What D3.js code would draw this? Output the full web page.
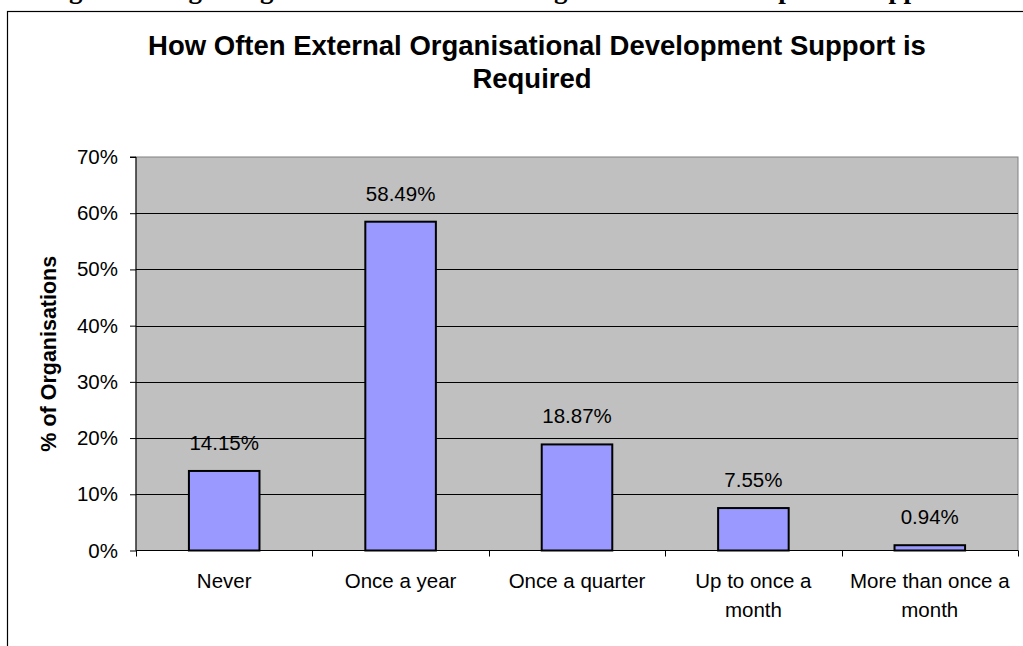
<!DOCTYPE html>
<html>
<head>
<meta charset="utf-8">
<script src="https://cdn.jsdelivr.net/npm/d3@7"></script>
<style>
  html, body { margin: 0; padding: 0; background: #fff; }
  svg { display: block; }
  text { font-family: "Liberation Sans", Arial, sans-serif; fill: #000; }
</style>
</head>
<body>
<svg id="chart" width="1023" height="646"></svg>
<script>
// Survey responses: how often organisations need external OD support
const categories = ["Never", "Once a year", "Once a quarter", "Up to once a month", "More than once a month"];
const tickLabelLines = [["Never"], ["Once a year"], ["Once a quarter"], ["Up to once a", "month"], ["More than once a", "month"]];
const values = [14.15, 58.49, 18.87, 7.55, 0.94];
const yTicks = [0, 10, 20, 30, 40, 50, 60, 70];

const chartTitle = ["How Often External Organisational Development Support is", "Required"];
const yAxisTitle = "% of Organisations";
const captionText = "Figure 18: Agreeing How Often External Organisational Development Support is Required";

const svg = d3.select("#chart");
const W = 1023, H = 646;

const plot = { left: 136, right: 1018, top: 157, bottom: 550.5 };

const x = d3.scaleBand()
  .domain(categories)
  .range([plot.left, plot.right])
  .paddingInner(0.6)
  .paddingOuter(0.3);

const y = d3.scaleLinear()
  .domain([0, 70])
  .range([plot.bottom, plot.top]);

// Document caption running above the chart frame (only its lower edge is on the page)
svg.append("text")
  .attr("x", 45)
  .attr("y", -2)
  .style("font-family", "'Liberation Serif', 'Times New Roman', serif")
  .style("font-weight", "bold")
  .style("font-size", "27px")
  .text(captionText);

// Chart frame
svg.append("rect")
  .attr("x", 7.5).attr("y", 11.5)
  .attr("width", W + 10).attr("height", H + 10)
  .attr("fill", "#fff")
  .attr("stroke", "#000")
  .attr("stroke-width", 1.2);

// Title
const title = svg.append("text")
  .attr("text-anchor", "middle")
  .style("font-weight", "bold")
  .style("font-size", "27.5px");
chartTitle.forEach((line, i) => {
  title.append("tspan")
    .attr("x", i === 0 ? 537 : 532)
    .attr("y", 55 + i * 33)
    .text(line);
});

// Plot background
svg.append("rect")
  .attr("x", plot.left).attr("y", plot.top)
  .attr("width", plot.right - plot.left)
  .attr("height", plot.bottom - plot.top)
  .attr("fill", "#c0c0c0")
  .attr("stroke", "#808080")
  .attr("stroke-width", 1);

// Horizontal gridlines
svg.append("g")
  .selectAll("line")
  .data(yTicks.filter(t => t > 0 && t < 70))
  .join("line")
  .attr("x1", plot.left).attr("x2", plot.right)
  .attr("y1", d => Math.round(y(d)) + 0.5)
  .attr("y2", d => Math.round(y(d)) + 0.5)
  .attr("stroke", "#000")
  .attr("stroke-width", 1);

// Bars
svg.append("g")
  .selectAll("rect")
  .data(values)
  .join("rect")
  .attr("x", (d, i) => x(categories[i]))
  .attr("y", d => y(d))
  .attr("width", x.bandwidth())
  .attr("height", d => plot.bottom - y(d))
  .attr("fill", "#9999ff")
  .attr("stroke", "#000")
  .attr("stroke-width", 2);

// Value labels
svg.append("g")
  .selectAll("text")
  .data(values)
  .join("text")
  .attr("x", (d, i) => x(categories[i]) + x.bandwidth() / 2)
  .attr("y", d => y(d) - 21)
  .attr("text-anchor", "middle")
  .style("font-size", "20.5px")
  .text(d => d.toFixed(2) + "%");

// Y axis
const yAxis = d3.axisLeft(y)
  .tickValues(yTicks)
  .tickSize(6)
  .tickPadding(12)
  .tickFormat(d => d + "%");
const gy = svg.append("g")
  .attr("transform", `translate(${plot.left},0)`)
  .call(yAxis);
gy.select(".domain").attr("stroke", "#000").attr("d", `M-6,${plot.top}H0V${plot.bottom}`);
gy.selectAll(".tick line").attr("stroke", "#000");
gy.selectAll(".tick text")
  .style("font-size", "20.5px")
  .style("font-family", "'Liberation Sans', Arial, sans-serif")
  .attr("fill", "#000");

// X axis: ticks sit on category boundaries
const xBoundary = d3.scaleLinear().domain([0, categories.length]).range([plot.left, plot.right]);
const gx = svg.append("g");
gx.append("line")
  .attr("x1", plot.left).attr("x2", plot.right)
  .attr("y1", plot.bottom).attr("y2", plot.bottom)
  .attr("stroke", "#000").attr("stroke-width", 1.2);
gx.selectAll("line.tick")
  .data(d3.range(categories.length + 1))
  .join("line")
  .attr("class", "tick")
  .attr("x1", d => Math.round(xBoundary(d)) + 0.5)
  .attr("x2", d => Math.round(xBoundary(d)) + 0.5)
  .attr("y1", plot.bottom).attr("y2", plot.bottom + 6)
  .attr("stroke", "#000");

const xl = gx.selectAll("text")
  .data(tickLabelLines)
  .join("text")
  .attr("text-anchor", "middle")
  .style("font-size", "20.5px");
xl.each(function (lines, i) {
  const cx = x(categories[i]) + x.bandwidth() / 2;
  d3.select(this).selectAll("tspan")
    .data(lines)
    .join("tspan")
    .attr("x", cx)
    .attr("y", (d, j) => 588 + j * 28.5)
    .text(d => d);
});

// Y axis title
svg.append("text")
  .attr("transform", `translate(56,${(plot.top + plot.bottom) / 2}) rotate(-90)`)
  .attr("text-anchor", "middle")
  .style("font-weight", "bold")
  .style("font-size", "21.5px")
  .text(yAxisTitle);
</script>
</body>
</html>
